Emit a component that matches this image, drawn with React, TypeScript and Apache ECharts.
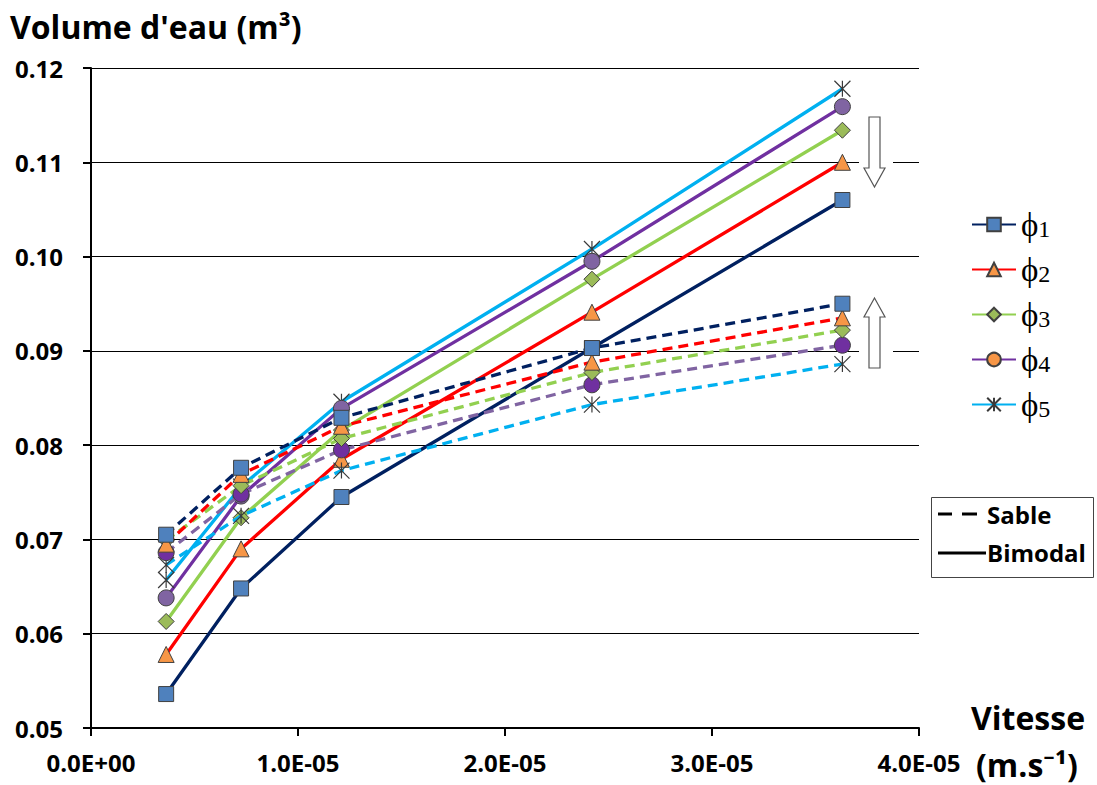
import React, { useEffect, useRef } from "react";
import * as echarts from "echarts";

// ---------------- data ----------------
const velocities = [3.63e-6, 7.25e-6, 1.21e-5, 2.42e-5, 3.63e-5];
const seriesNames = ["ϕ1", "ϕ2", "ϕ3", "ϕ4", "ϕ5"];

// Bimodal (solid lines)
const bimodalPhi1 = [0.0536, 0.0648, 0.0745, 0.0903, 0.106];
const bimodalPhi2 = [0.0578, 0.069, 0.0785, 0.0941, 0.11];
const bimodalPhi3 = [0.0613, 0.0723, 0.0816, 0.0976, 0.1134];
const bimodalPhi4 = [0.0638, 0.0746, 0.0839, 0.0995, 0.1159];
const bimodalPhi5 = [0.0657, 0.0756, 0.0846, 0.1008, 0.1178];

// Sable (dashed lines)
const sablePhi1 = [0.0705, 0.0776, 0.0829, 0.0903, 0.095];
const sablePhi2 = [0.0695, 0.0769, 0.082, 0.0888, 0.0935];
const sablePhi3 = [0.0699, 0.0757, 0.0807, 0.0877, 0.0922];
const sablePhi4 = [0.0686, 0.0748, 0.0795, 0.0864, 0.0906];
const sablePhi5 = [0.0673, 0.0725, 0.0773, 0.0843, 0.0886];

const xTickLabels = ["0.0E+00", "1.0E-05", "2.0E-05", "3.0E-05", "4.0E-05"];
const yTickLabels = ["0.05", "0.06", "0.07", "0.08", "0.09", "0.10", "0.11", "0.12"];

const bimodalData = [bimodalPhi1, bimodalPhi2, bimodalPhi3, bimodalPhi4, bimodalPhi5];
const sableData = [sablePhi1, sablePhi2, sablePhi3, sablePhi4, sablePhi5];

// ---------------- styles ----------------
const STAR = "path://M0,0L10,10M10,0L0,10M5,0L5,10";
const solidColors = ["#002060", "#FF0000", "#92D050", "#7030A0", "#00B0F0"];
const dashedColors = ["#002060", "#FF0000", "#92D050", "#8064A2", "#00B0F0"];
const markerSymbols = ["rect", "triangle", "diamond", "circle", STAR];
const markerSizes = [15, 16, 16, 16, 16];
const solidFills = ["#4F81BD", "#F79646", "#9BBB59", "#8064A2", "rgba(0,0,0,0)"];
const dashedFills = ["#4F81BD", "#F79646", "#9BBB59", "#7030A0", "rgba(0,0,0,0)"];
const legendFills = ["#4F81BD", "#F79646", "#9BBB59", "#F79646", "rgba(0,0,0,0)"];

const SANS = "'Open Sans', 'Noto Sans', sans-serif";
const SERIF = "'Liberation Serif', 'DejaVu Serif', serif";

function makeSeries(i: number, dashed: boolean) {
  const values = dashed ? sableData[i] : bimodalData[i];
  const isStar = i === 4;
  return {
    type: "line",
    name: dashed ? seriesNames[i] + " sable" : seriesNames[i],
    data: velocities.map((x, k) => [x, values[k]]),
    symbol: markerSymbols[i],
    symbolSize: markerSizes[i],
    showSymbol: true,
    lineStyle: {
      color: dashed ? dashedColors[i] : solidColors[i],
      width: 3.3,
      type: dashed ? [10, 6] : "solid",
    },
    itemStyle: {
      color: dashed ? dashedFills[i] : solidFills[i],
      borderColor: isStar ? "#3a3a3a" : "#404040",
      borderWidth: isStar ? 1.2 : 1,
    },
    emphasis: { disabled: true },
    z: dashed ? 3 : 2,
  };
}

export default function App() {
  const ref = useRef<HTMLDivElement>(null);

  useEffect(() => {
    if (!ref.current) return;
    const chart = echarts.init(ref.current, undefined, { renderer: "svg" });

    const series: any[] = [];
    for (let i = 4; i >= 0; i--) series.push(makeSeries(i, false));
    for (let i = 4; i >= 0; i--) series.push(makeSeries(i, true));

    const option: any = {
      animation: false,
      backgroundColor: "#ffffff",
      grid: { left: 91, right: 178, top: 68, bottom: 57, containLabel: false },
      xAxis: {
        type: "value",
        min: 0,
        max: 4e-5,
        interval: 1e-5,
        axisLine: { show: true, lineStyle: { color: "#000", width: 2 } },
        axisTick: { show: true, inside: false, length: 8, lineStyle: { color: "#000", width: 2 } },
        splitLine: { show: false },
        axisLabel: {
          formatter: (_v: number, idx: number) => xTickLabels[idx],
          fontFamily: SANS,
          fontWeight: "bold",
          fontSize: 24,
          color: "#000",
          margin: 22,
        },
      },
      yAxis: {
        type: "value",
        min: 0.05,
        max: 0.12,
        interval: 0.01,
        axisLine: { show: true, lineStyle: { color: "#000", width: 2 } },
        axisTick: { show: true, inside: false, length: 8, lineStyle: { color: "#000", width: 2 } },
        splitLine: { show: true, lineStyle: { color: "#000", width: 1 } },
        axisLabel: {
          formatter: (_v: number, idx: number) => yTickLabels[idx],
          fontFamily: SANS,
          fontWeight: "bold",
          fontSize: 24,
          color: "#000",
          margin: 28,
        },
      },
      legend: {
        orient: "vertical",
        left: 966,
        top: 203,
        itemWidth: 44,
        itemHeight: 17,
        itemGap: 12,
        selectedMode: false,
        data: seriesNames.map((n, i) => ({
          name: n,
          itemStyle: { color: legendFills[i] },
        })),
        formatter: (name: string) => `{p|ϕ}{n|${name.slice(1)}}`,
        textStyle: {
          color: "#000",
          lineHeight: 33,
          rich: {
            p: { fontFamily: SERIF, fontSize: 33, color: "#000", verticalAlign: "bottom", lineHeight: 33 },
            n: { fontFamily: SERIF, fontSize: 24, color: "#000", verticalAlign: "bottom", lineHeight: 28 },
          },
        },
      },
      graphic: [
        {
          type: "text",
          left: 10,
          top: 10,
          style: {
            text: "Volume d'eau (m³)",
            font: `bold 32px ${SANS}`,
            fill: "#000",
          },
        },
        {
          type: "text",
          x: 971,
          y: 717,
          style: {
            text: "Vitesse",
            font: `bold 32px ${SANS}`,
            fill: "#000",
            textVerticalAlign: "middle",
          },
        },
        {
          type: "text",
          x: 976,
          y: 764,
          style: {
            text: "(m.s⁻¹)",
            font: `bold 32px ${SANS}`,
            fill: "#000",
            textVerticalAlign: "middle",
          },
        },
        // white backgrounds behind arrows
        { type: "rect", shape: { x: 859, y: 110, width: 34, height: 82 }, style: { fill: "#fff" }, z: 10 },
        { type: "rect", shape: { x: 859, y: 293, width: 34, height: 80 }, style: { fill: "#fff" }, z: 10 },
        {
          type: "polygon",
          shape: {
            points: [[869, 117], [880, 117], [880, 168], [885, 168], [874.5, 187], [864, 168], [869, 168]],
          },
          style: { fill: "#fff", stroke: "#555", lineWidth: 1.2 },
          z: 11,
        },
        {
          type: "polygon",
          shape: {
            points: [[874.5, 298], [885, 317], [880, 317], [880, 368], [869, 368], [869, 317], [864, 317]],
          },
          style: { fill: "#fff", stroke: "#555", lineWidth: 1.2 },
          z: 11,
        },
        // Sable / Bimodal key
        { type: "rect", shape: { x: 931.5, y: 497.5, width: 162, height: 80 }, style: { fill: "#fff", stroke: "#444", lineWidth: 1 }, z: 10 },
        { type: "line", shape: { x1: 938, y1: 514, x2: 952, y2: 514 }, style: { stroke: "#000", lineWidth: 3 }, z: 11 },
        { type: "line", shape: { x1: 962, y1: 514, x2: 977, y2: 514 }, style: { stroke: "#000", lineWidth: 3 }, z: 11 },
        { type: "line", shape: { x1: 938, y1: 553, x2: 986, y2: 553 }, style: { stroke: "#000", lineWidth: 3 }, z: 11 },
        {
          type: "text",
          x: 987,
          y: 514,
          style: { text: "Sable", font: `bold 24px ${SANS}`, fill: "#000", textVerticalAlign: "middle" },
          z: 11,
        },
        {
          type: "text",
          x: 987,
          y: 552,
          style: { text: "Bimodal", font: `bold 24px ${SANS}`, fill: "#000", textVerticalAlign: "middle" },
          z: 11,
        },
      ],
      series,
    };

    chart.setOption(option);
    return () => chart.dispose();
  }, []);

  return (
    <div
      ref={ref}
      style={{ position: "fixed", left: 0, top: 0, width: 1097, height: 785, background: "#fff" }}
    />
  );
}
